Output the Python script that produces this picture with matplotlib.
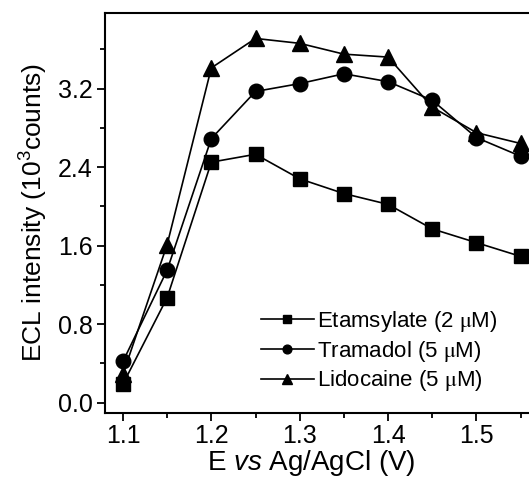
import matplotlib
matplotlib.use("Agg")
import matplotlib.pyplot as plt
from matplotlib.ticker import MultipleLocator

plt.rcParams["font.family"] = ["Liberation Sans", "DejaVu Sans"]
plt.rcParams["mathtext.fontset"] = "custom"
plt.rcParams["mathtext.rm"] = "Liberation Sans"
plt.rcParams["mathtext.it"] = "Liberation Sans:italic"

potential = [1.10, 1.15, 1.20, 1.25, 1.30, 1.35, 1.40, 1.45, 1.50, 1.55]
etamsylate = [0.19, 1.07, 2.45, 2.53, 2.28, 2.13, 2.02, 1.77, 1.63, 1.49]
tramadol = [0.42, 1.35, 2.69, 3.17, 3.25, 3.35, 3.27, 3.08, 2.70, 2.51]
lidocaine = [0.29, 1.61, 3.41, 3.71, 3.66, 3.55, 3.52, 3.01, 2.75, 2.64]

series = [
    (etamsylate, "s", 9.5, r"Etamsylate (2 $\mathrm{\mu}$M)"),
    (tramadol, "o", 10.5, r"Tramadol (5 $\mathrm{\mu}$M)"),
    (lidocaine, "^", 11.5, r"Lidocaine (5 $\mathrm{\mu}$M)"),
]

fig = plt.figure(figsize=(5.29, 4.78), dpi=100)
ax = fig.add_axes([0.199, 0.137, 0.827, 0.836])

for values, marker, ms, label in series:
    ax.plot(potential, values, color="black", lw=1.2, marker=marker,
            markersize=ms, label=label, clip_on=False)

ax.set_xlim(1.08, 1.575)
ax.set_ylim(-0.1, 3.97)
ax.xaxis.set_major_locator(MultipleLocator(0.1))
ax.xaxis.set_minor_locator(MultipleLocator(0.05))
ax.yaxis.set_major_locator(MultipleLocator(0.8))
ax.yaxis.set_minor_locator(MultipleLocator(0.4))
ax.tick_params(which="both", direction="out", labelsize=18, width=1.3)
ax.tick_params(which="major", length=6, pad=3)
ax.tick_params(which="minor", length=3.5)
ax.tick_params(axis="x", pad=2)
for sp in ax.spines.values():
    sp.set_linewidth(1.5)

ax.set_xlabel(r"E $\mathit{vs}$ Ag/AgCl (V)", fontsize=20)
ax.xaxis.set_label_coords(0.472, -0.088)
ax.set_ylabel(r"ECL intensity (10$^3$counts)", fontsize=19, labelpad=6)

leg = ax.legend(loc="upper left", bbox_to_anchor=(0.355, 0.26), frameon=False,
                fontsize=16, markerscale=0.6, handlelength=2.4,
                handletextpad=0.15, labelspacing=0.22, borderaxespad=0,
                borderpad=0)
for t in leg.get_texts():
    t.set_math_fontfamily("stix")

fig.savefig("out.png", dpi=100)
